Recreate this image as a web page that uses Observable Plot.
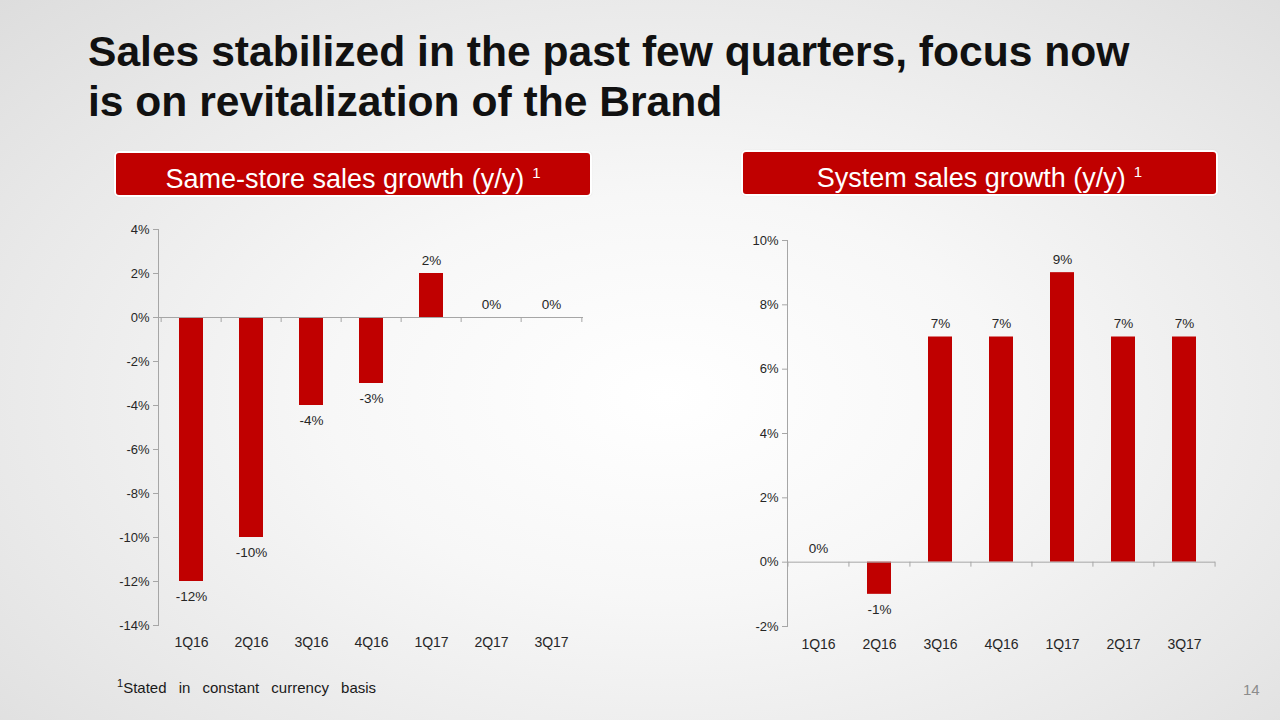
<!DOCTYPE html>
<html>
<head>
<meta charset="utf-8">
<script src="https://cdn.jsdelivr.net/npm/d3@7"></script>
<script src="https://cdn.jsdelivr.net/npm/@observablehq/plot@0.6"></script>
<style>
  html, body { margin: 0; padding: 0; }
  body {
    width: 1280px; height: 720px; overflow: hidden; position: relative;
    font-family: "Liberation Sans", Arial, sans-serif;
    background: radial-gradient(ellipse 75% 80% at 52% 55%, #ffffff 0%, #f7f7f7 35%, #e9e9e9 70%, #dcdcdc 100%);
  }
  #title {
    position: absolute; left: 88px; top: 26px; margin: 0;
    font-size: 42.6px; line-height: 50px; font-weight: bold; color: #111;
  }
  .hdr {
    position: absolute; height: 42px; background: #c00000; color: #fff;
    border: 2px solid #fff; border-radius: 5px; box-sizing: content-box;
    text-align: center; font-size: 27px; line-height: 39px; white-space: nowrap;
    box-shadow: 0 0 1px rgba(0,0,0,0.15);
  }
  .hdr sup { font-size: 15px; vertical-align: 10px; margin-left: 8px; }
  .chart { position: absolute; }
  #foot { position: absolute; left: 117px; top: 677px; font-size: 15px; color: #1a1a1a; word-spacing: 8px; }
  #foot sup { font-size: 11px; vertical-align: 6px; }
  #page { position: absolute; left: 1243px; top: 681px; font-size: 15px; color: #8c8c8c; }
</style>
</head>
<body>
<h1 id="title">Sales stabilized in the past few quarters, focus now<br>is on revitalization of the Brand</h1>
<div class="hdr" style="left:114px; top:151px; width:474px;">Same-store sales growth (y/y)<sup>1</sup></div>
<div class="hdr" style="left:741px; top:150px; width:473px;">System sales growth (y/y)<sup>1</sup></div>
<div class="chart" id="c1" style="left:100px; top:215px;"></div>
<div class="chart" id="c2" style="left:730px; top:225px;"></div>
<div id="foot"><sup>1</sup>Stated in constant currency basis</div>
<div id="page">14</div>
<script>
const quarters = ["1Q16", "2Q16", "3Q16", "4Q16", "1Q17", "2Q17", "3Q17"];
const sameStoreGrowth = [-12, -10, -4, -3, 2, 0, 0];
const systemGrowth = [0, -1, 7, 7, 9, 7, 7];
const sameStoreTicks = [-14, -12, -10, -8, -6, -4, -2, 0, 2, 4];
const systemTicks = [-2, 0, 2, 4, 6, 8, 10];

const RED = "#c00000";
const AXIS = "#a6a6a6";
const TXT = "#262626";

function makeChart(values, ticks, opts) {
  const data = quarters.map((q, i) => ({q, v: values[i]}));
  const domain = [d3.min(ticks), d3.max(ticks)];
  const innerH = opts.height - opts.marginTop - opts.marginBottom;
  const innerW = opts.width - opts.marginLeft - opts.marginRight;
  const step = innerW / quarters.length;
  const tickLen = (domain[1] - domain[0]) * 5 / innerH;
  return Plot.plot({
    width: opts.width,
    height: opts.height,
    marginLeft: opts.marginLeft,
    marginRight: opts.marginRight,
    marginTop: opts.marginTop,
    marginBottom: opts.marginBottom,
    style: {background: "transparent", fontFamily: "'Liberation Sans', Arial, sans-serif", color: TXT},
    x: {domain: quarters, paddingInner: 0.6, paddingOuter: 0.3, align: 0.5, label: null},
    y: {domain, label: null},
    marks: [
      Plot.barY(data, {x: "q", y: "v", fill: RED}),
      Plot.frame({anchor: "left", stroke: AXIS}),
      Plot.ruleY([0], {stroke: AXIS}),
      Plot.ruleX(quarters, {x: d => d, y1: 0, y2: -tickLen, dx: -step / 2, stroke: AXIS}),
      Plot.ruleX([quarters[quarters.length - 1]], {x: d => d, y1: 0, y2: -tickLen, dx: step / 2, stroke: AXIS}),
      Plot.axisY({ticks, tickFormat: d => d + "%", tickSize: 5, stroke: AXIS, fontSize: 13, fill: TXT, tickPadding: 4, label: null}),
      Plot.axisX({tickSize: 0, fontSize: 14, fill: TXT, tickPadding: opts.xPad, label: null}),
      Plot.text(data, {
        x: "q", y: "v", text: d => d.v + "%", fontSize: 13.5, fill: TXT,
        filter: d => d.v >= 0, lineAnchor: "bottom", dy: -9
      }),
      Plot.text(data, {
        x: "q", y: "v", text: d => d.v + "%", fontSize: 13.5, fill: TXT,
        filter: d => d.v < 0, lineAnchor: "top", dy: 10
      })
    ]
  });
}

document.getElementById("c1").appendChild(makeChart(sameStoreGrowth, sameStoreTicks, {
  width: 500, height: 440, marginLeft: 58, marginRight: 17, marginTop: 14, marginBottom: 30, xPad: 12
}));
document.getElementById("c2").appendChild(makeChart(systemGrowth, systemTicks, {
  width: 500, height: 430, marginLeft: 57, marginRight: 15, marginTop: 15, marginBottom: 29, xPad: 13
}));
</script>
</body>
</html>
